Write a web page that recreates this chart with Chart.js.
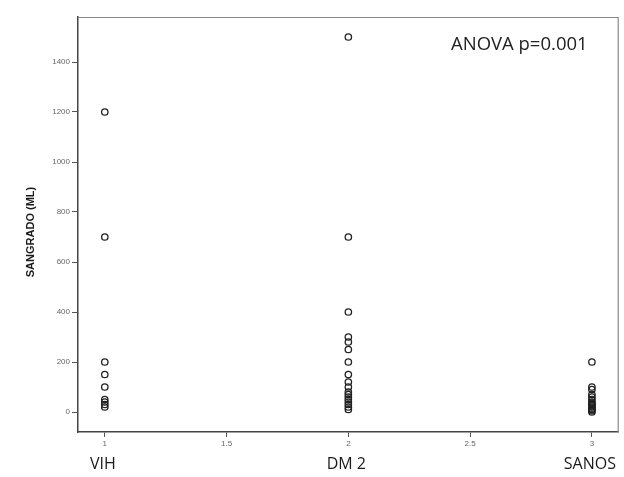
<!DOCTYPE html>
<html>
<head>
<meta charset="utf-8">
<script src="https://cdn.jsdelivr.net/npm/chart.js@4.4.1/dist/chart.umd.min.js"></script>
<style>
  html, body { margin: 0; padding: 0; background: #ffffff; }
  #wrap { width: 624px; height: 477px; position: relative; }
</style>
</head>
<body>
<div id="wrap"><canvas id="c" width="624" height="477"></canvas></div>
<script>
// ---- data ----
const categories = ['VIH', 'DM 2', 'SANOS'];
const categoryPositions = [1, 2, 3];
const vihValues = [1200, 700, 200, 150, 100, 50, 40, 30, 20];
const dm2Values = [1500, 700, 400, 300, 280, 250, 200, 150, 120, 100, 80, 70, 60, 50, 40, 30, 20, 10];
const sanosValues = [200, 100, 90, 70, 60, 50, 40, 35, 30, 25, 20, 15, 10, 5, 0];
const xTickValues = [1, 1.5, 2, 2.5, 3];
const yTickValues = [0, 200, 400, 600, 800, 1000, 1200, 1400];
const yAxisTitle = 'SANGRADO (ML)';
const annotationText = 'ANOVA p=0.001';

const groups = [vihValues, dm2Values, sanosValues];
const datasets = groups.map((vals, i) => ({
  label: categories[i],
  data: vals.map(v => ({ x: categoryPositions[i], y: v })),
  pointStyle: 'circle',
  pointRadius: 3.2,
  pointBorderWidth: 1.3,
  pointBorderColor: '#222222',
  pointBackgroundColor: 'rgba(0,0,0,0)',
  showLine: false
}));

const extrasPlugin = {
  id: 'extras',
  afterDraw(chart) {
    const { ctx, chartArea: a, scales } = chart;
    ctx.save();
    // top & right frame
    ctx.strokeStyle = '#8a8a8a';
    ctx.lineWidth = 1.2;
    ctx.beginPath();
    ctx.moveTo(a.left, a.top + 0.5);
    ctx.lineTo(a.right - 0.5, a.top + 0.5);
    ctx.lineTo(a.right - 0.5, a.bottom);
    ctx.stroke();
    // category labels
    ctx.fillStyle = '#1a1a1a';
    ctx.font = '16px "Open Sans"';
    ctx.textAlign = 'center';
    ctx.textBaseline = 'middle';
    categories.forEach((c, i) => {
      ctx.fillText(c, scales.x.getPixelForValue(categoryPositions[i]) - 2, 464);
    });
    // annotation
    ctx.font = '18.5px "Open Sans"';
    ctx.textAlign = 'left';
    ctx.fillStyle = '#222222';
    ctx.fillText(annotationText, 451, 45);
    // y title
    ctx.fillStyle = '#1a1a1a';
    ctx.translate(31, 232);
    ctx.rotate(-Math.PI / 2);
    ctx.font = 'bold 11px "Liberation Sans"';
    ctx.textAlign = 'center';
    ctx.fillText(yAxisTitle, 0, 0);
    ctx.restore();
  }
};

new Chart(document.getElementById('c'), {
  type: 'scatter',
  data: { datasets },
  options: {
    responsive: false,
    animation: false,
    layout: { padding: { top: 17, right: 5, left: 0, bottom: 0 } },
    plugins: { legend: { display: false }, tooltip: { enabled: false } },
    scales: {
      x: {
        type: 'linear',
        min: 0.89,
        max: 3.11,
        afterBuildTicks: (s) => { s.ticks = xTickValues.map(v => ({ value: v })); },
        afterFit: (s) => { s.height = 45; },
        grid: { drawOnChartArea: false, drawTicks: true, tickLength: 5, color: '#555555' },
        border: { display: true, color: '#444444', width: 1.5 },
        ticks: { color: '#666666', font: { size: 8, family: 'Liberation Sans' }, padding: 2, maxRotation: 0,
                 callback: (v) => String(v) }
      },
      y: {
        type: 'linear',
        min: -80,
        max: 1580,
        afterBuildTicks: (s) => { s.ticks = yTickValues.map(v => ({ value: v })); },
        afterFit: (s) => { s.width = 78; },
        grid: { drawOnChartArea: false, drawTicks: true, tickLength: 6, color: '#555555' },
        border: { display: true, color: '#444444', width: 1.5 },
        ticks: { color: '#666666', font: { size: 8, family: 'Liberation Sans' }, padding: 2,
                 callback: (v) => String(v) }
      }
    }
  },
  plugins: [extrasPlugin]
});
</script>
</body>
</html>
